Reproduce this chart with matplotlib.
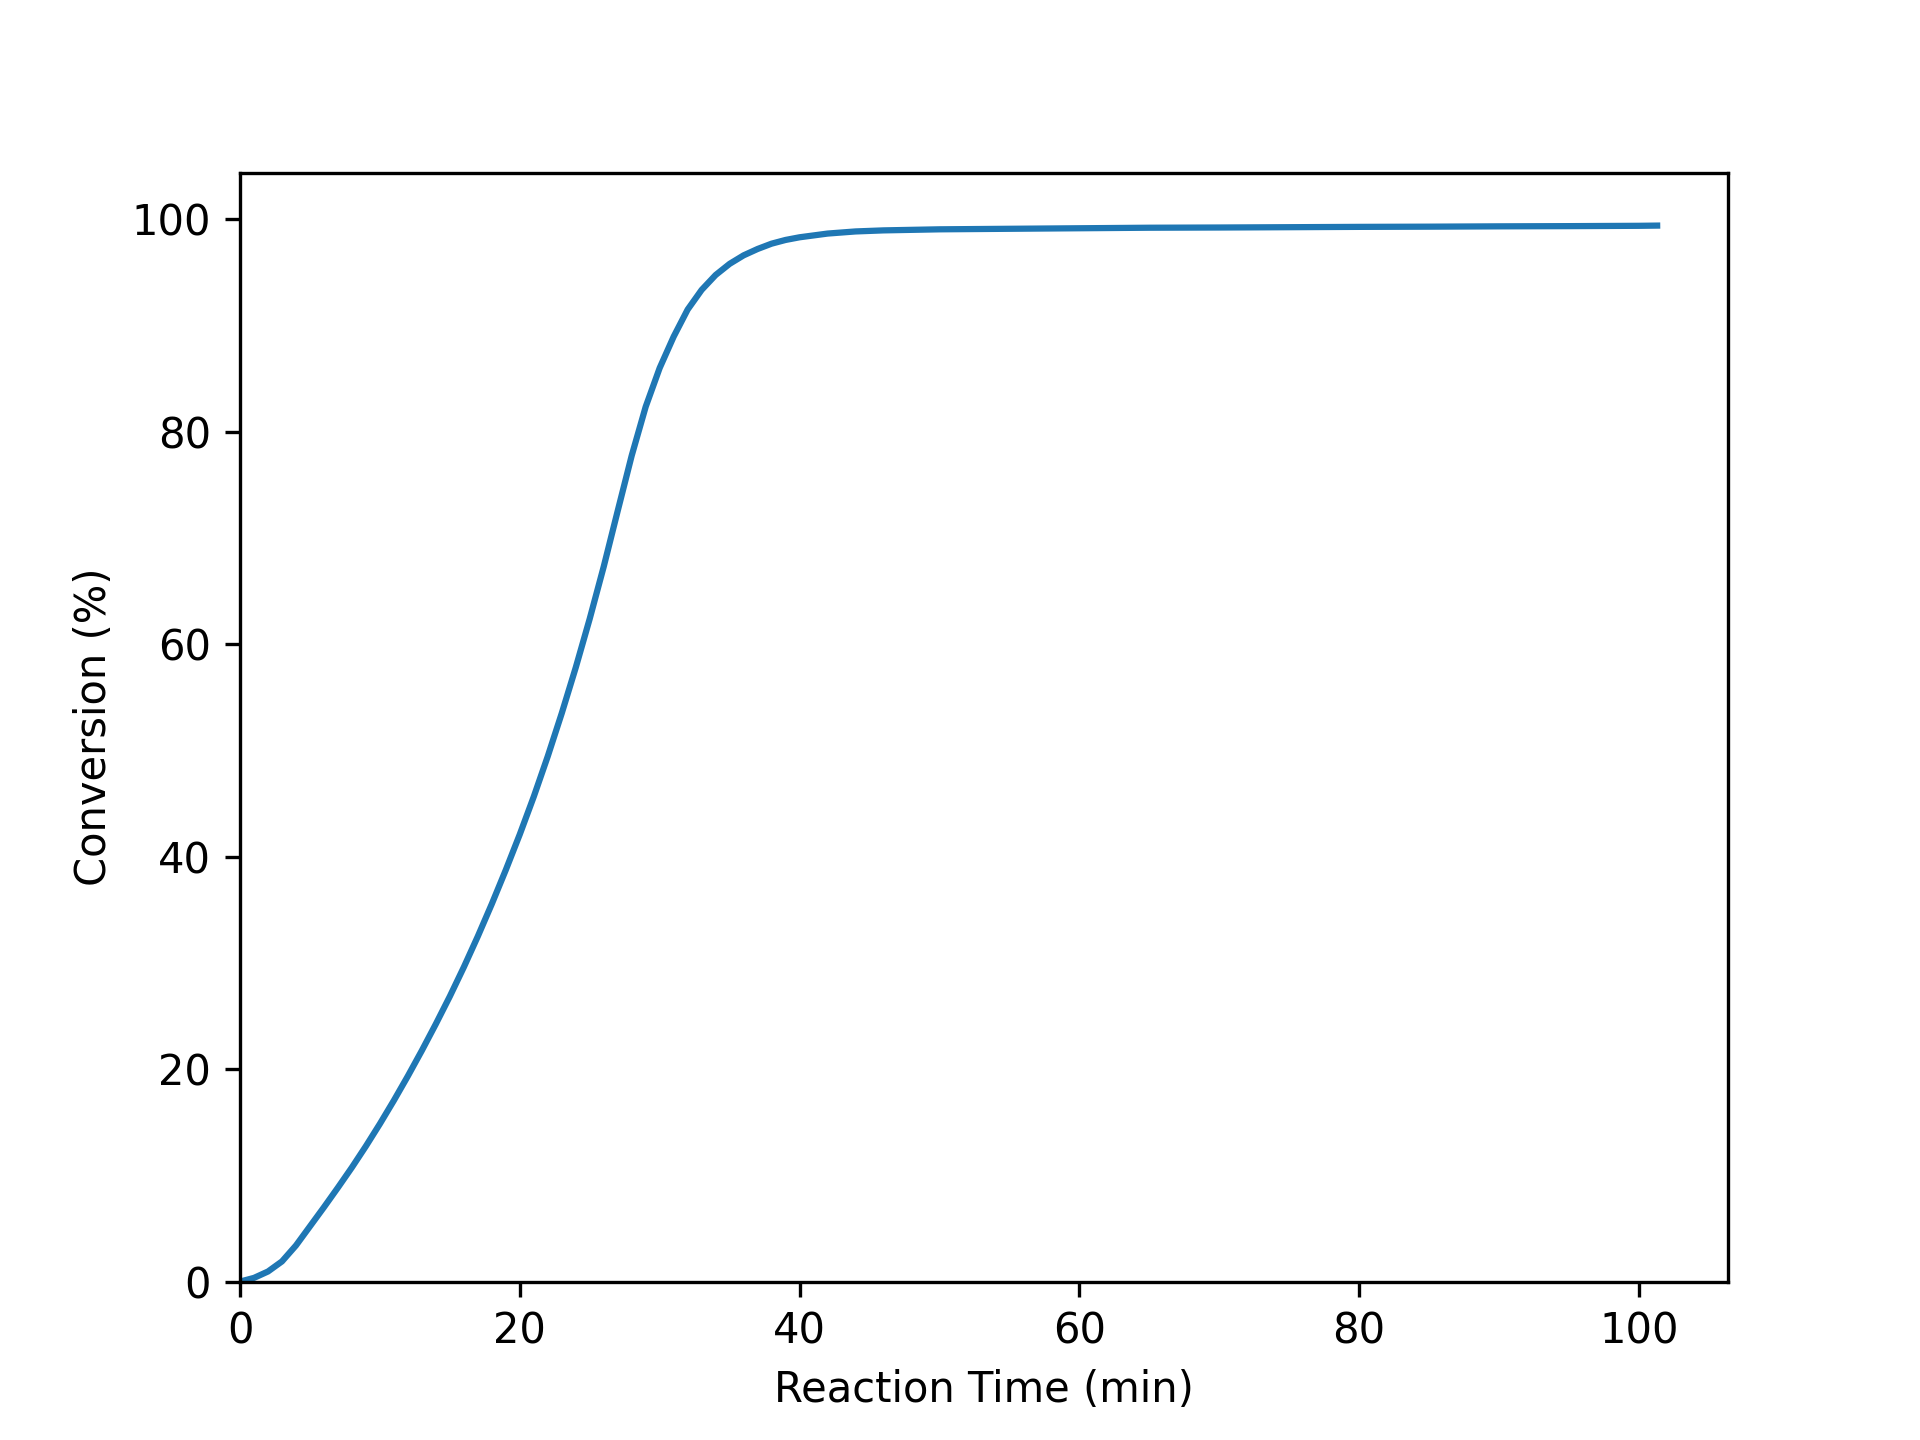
import numpy as np
from matplotlib import pyplot as plt

# reaction time (min) and conversion (%)
time_min = [0, 1, 2, 3, 4, 5, 6, 7, 8, 9, 10, 11, 12, 13, 14, 15, 16, 17, 18, 19,
            20, 21, 22, 23, 24, 25, 26, 27, 28, 29, 30, 31, 32, 33, 34, 35, 36, 37,
            38, 39, 40, 42, 44, 46, 48, 50, 55, 60, 65, 70, 75, 80, 85, 90, 95, 100, 101.3]
conversion = [0.0, 0.35, 0.95, 1.9, 3.4, 5.2, 7.0, 8.85, 10.75, 12.75, 14.85, 17.05,
              19.35, 21.75, 24.25, 26.85, 29.6, 32.5, 35.55, 38.75, 42.1, 45.65, 49.45,
              53.5, 57.8, 62.4, 67.3, 72.55, 77.75, 82.35, 86.0, 88.95, 91.5, 93.35,
              94.75, 95.8, 96.6, 97.2, 97.7, 98.05, 98.3, 98.65, 98.85, 98.95, 99.0, 99.05,
              99.1, 99.15, 99.2, 99.22, 99.25, 99.28, 99.3, 99.33, 99.35, 99.38, 99.4]

if __name__ == "__main__":
    fig = plt.figure(figsize=(6.4, 4.8), dpi=300)
    ax = fig.add_subplot(111)
    ax.plot(np.array(time_min), np.array(conversion), color="#1f77b4", linewidth=1.5)
    ax.set_xlabel("Reaction Time (min)")
    ax.set_ylabel("Conversion (%)")
    ax.set_xlim(left=0)
    ax.set_ylim(bottom=0)
    fig.savefig("out.png", dpi=300)
